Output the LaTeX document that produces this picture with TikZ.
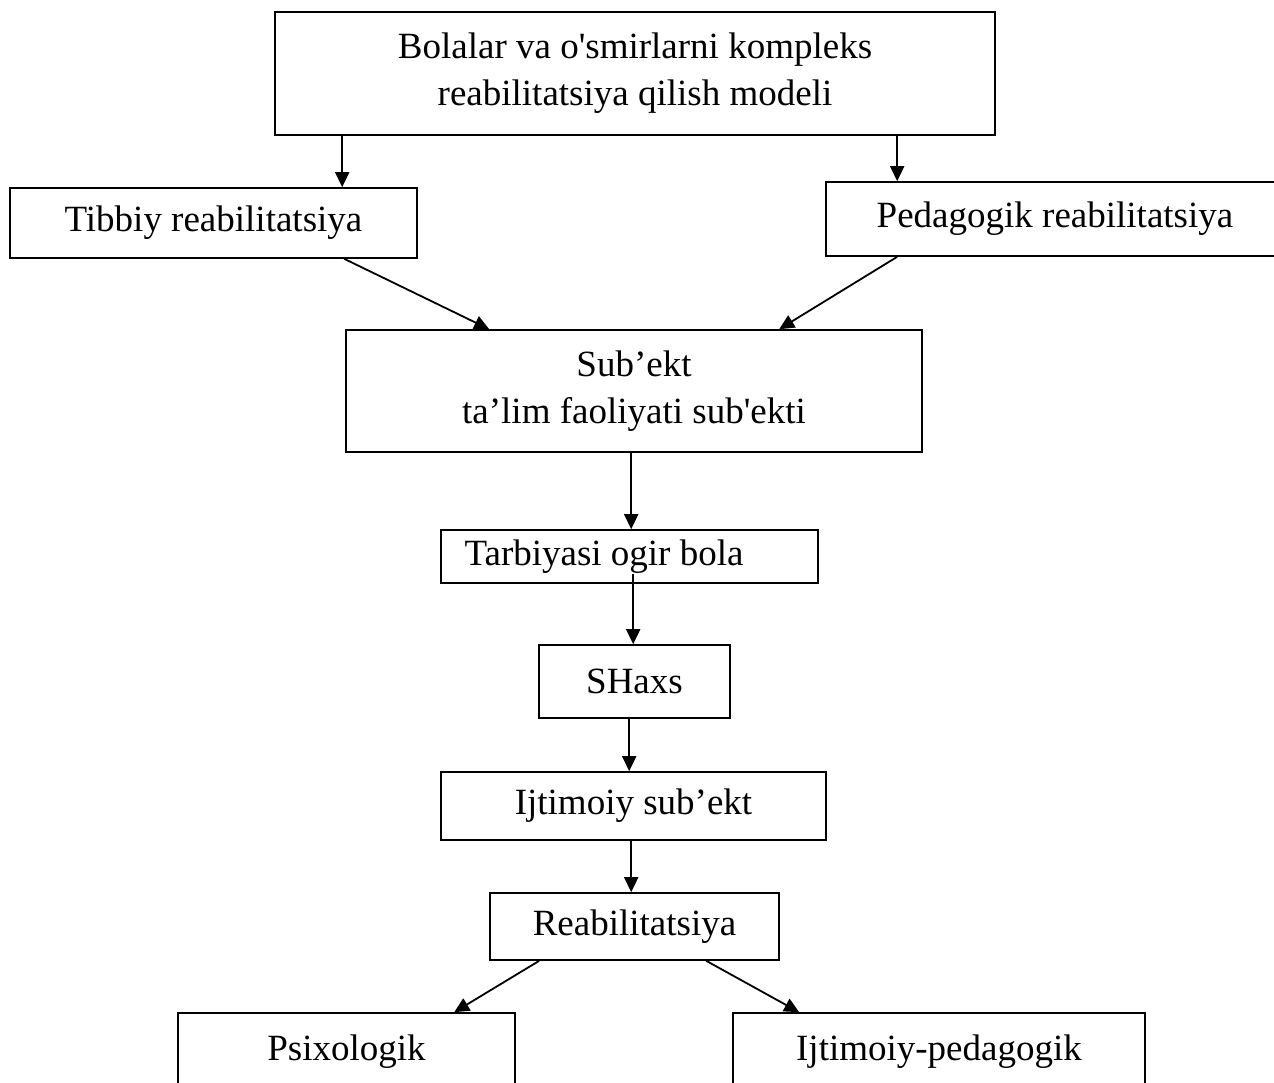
\documentclass[tikz,border=0pt]{standalone}
\usepackage{fontspec}
\setmainfont{Liberation Serif}
\usetikzlibrary{arrows.meta}
\begin{document}
\begin{tikzpicture}[x=1pt,y=-1pt,
  box/.style={draw,line width=1.6pt,rectangle,inner sep=0pt,align=center,
    font=\fontsize{37}{47}\selectfont},
  arr/.style={line width=1.8pt,-{Triangle[length=15pt,width=14pt]}}]
\useasboundingbox (0,0) rectangle (1274,1082);
\node[box,minimum width=720pt,minimum height=123pt] (top) at (635,73.5)
  {Bolalar va o\textquotesingle smirlarni kompleks\\reabilitatsiya qilish modeli};
\node[box,minimum width=407pt,minimum height=70pt] (tib) at (213.5,223) {Tibbiy reabilitatsiya};
\node[box,minimum width=458pt,minimum height=74pt] (ped) at (1055,219) {Pedagogik reabilitatsiya};
\node[box,minimum width=576pt,minimum height=122pt] (sub) at (634,391)
  {Sub’ekt\\ta’lim faoliyati sub\textquotesingle ekti};
\node[box,minimum width=377pt,minimum height=53pt] (tarb) at (629.5,556.5) {Tarbiyasi ogir bola\hspace*{51pt}};
\node[box,minimum width=191pt,minimum height=73pt] (shaxs) at (634.5,681.5) {SHaxs};
\node[box,minimum width=385pt,minimum height=68pt] (ijt) at (633.5,806) {Ijtimoiy sub’ekt};
\node[box,minimum width=289pt,minimum height=67pt] (reab) at (634.5,926.5) {Reabilitatsiya};
\node[box,minimum width=337pt,minimum height=77pt] (psix) at (346.5,1051.5) {Psixologik};
\node[box,minimum width=412pt,minimum height=77pt] (ijped) at (939,1051.5) {Ijtimoiy-pedagogik};
\draw[arr] ([xshift=68pt]top.south west) -- ([xshift=333pt]tib.north west);
\draw[arr] ([xshift=623pt]top.south west) -- ([xshift=72pt]ped.north west);
\draw[arr] ([xshift=335pt]tib.south west) -- ([xshift=144pt]sub.north west);
\draw[arr] ([xshift=72pt]ped.south west) -- ([xshift=434pt]sub.north west);
\draw[arr] ([xshift=286pt]sub.south west) -- ([xshift=191pt]tarb.north west);
\draw[arr] ([xshift=193pt,yshift=10pt]tarb.south west) -- ([xshift=95pt]shaxs.north west);
\draw[arr] ([xshift=91pt]shaxs.south west) -- ([xshift=189pt]ijt.north west);
\draw[arr] ([xshift=191pt]ijt.south west) -- ([xshift=142pt]reab.north west);
\draw[arr] ([xshift=50pt]reab.south west) -- ([xshift=277pt]psix.north west);
\draw[arr] ([xshift=217pt]reab.south west) -- ([xshift=67pt]ijped.north west);
\end{tikzpicture}
\end{document}
